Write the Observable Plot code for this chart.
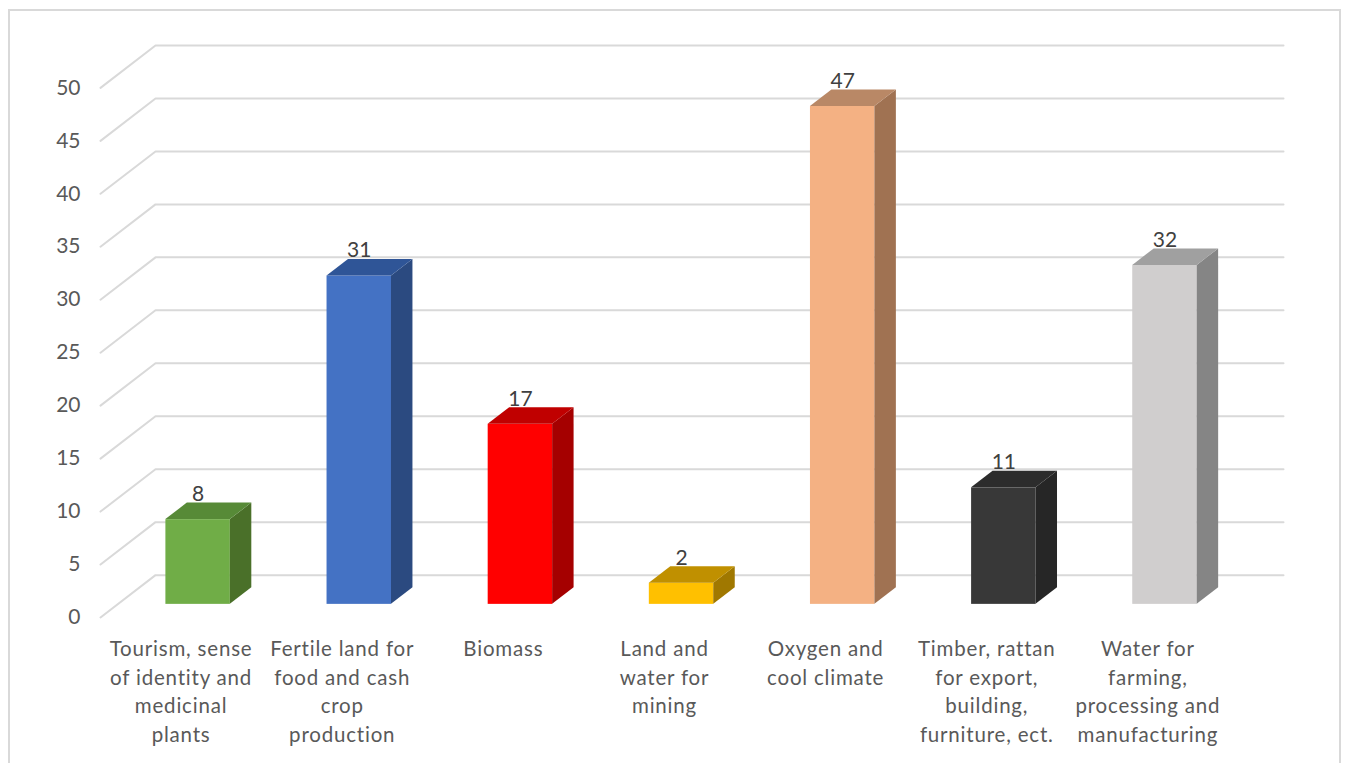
<!DOCTYPE html>
<html>
<head>
<meta charset="utf-8">
<script src="https://cdn.jsdelivr.net/npm/d3@7"></script>
<script src="https://cdn.jsdelivr.net/npm/@observablehq/plot@0.6"></script>
<style>
  html, body { margin: 0; padding: 0; background: #fff; }
  #wrap { position: relative; width: 1347px; height: 763px; overflow: hidden; }
  #border { position: absolute; left: 8px; top: 9px; width: 1333px; height: 770px; border: 2px solid #d9d9d9; box-sizing: border-box; }
  #chart { position: absolute; left: 0; top: 0; }
</style>
</head>
<body>
<div id="wrap"><div id="border"></div><div id="chart"></div></div>
<script>
// ---- data ----
const categories = [
  "Tourism, sense\nof identity and\nmedicinal\nplants",
  "Fertile land for\nfood and cash\ncrop\nproduction",
  "Biomass",
  "Land and\nwater for\nmining",
  "Oxygen and\ncool climate",
  "Timber, rattan\nfor export,\nbuilding,\nfurniture, ect.",
  "Water for\nfarming,\nprocessing and\nmanufacturing"
];
const values = [8, 31, 17, 2, 47, 11, 32];
const frontColors = ["#70ad47", "#4472c4", "#ff0000", "#ffc000", "#f4b183", "#383838", "#d0cece"];
const topColors   = ["#578a37", "#2f5597", "#c00000", "#c09000", "#b98866", "#2c2c2c", "#a0a0a0"];
const sideColors  = ["#4a7029", "#2b4a80", "#a50000", "#a07800", "#a07252", "#262626", "#858585"];
const yTicks = [0, 5, 10, 15, 20, 25, 30, 35, 40, 45, 50];

// ---- 3D geometry (oblique projection, in data units) ----
const DX = 0.3414;   // depth offset along x (category units)
const DY = 4.0;      // depth offset along y (value units)
const D0 = 0.31, D1 = 0.70;  // bar depth range (fraction of full depth)
const BW = 0.4;      // bar width (category units)
const N = categories.length;

const bars = categories.map((c, i) => ({i, c, v: values[i], front: frontColors[i], top: topColors[i], side: sideColors[i]}));

const gridPts = yTicks.flatMap(t => [
  {t, x: 0, y: t},
  {t, x: DX, y: t + DY},
  {t, x: N + DX, y: t + DY}
]);

const sidePts = bars.flatMap(b => [
  {i: b.i, x: b.i + 0.5 + BW / 2 + D0 * DX, y1: D0 * DY, y2: b.v + D0 * DY, fill: b.side},
  {i: b.i, x: b.i + 0.5 + BW / 2 + D1 * DX, y1: D1 * DY, y2: b.v + D1 * DY, fill: b.side}
]);
const topPts = bars.flatMap(b => [
  {i: b.i, y: b.v + D0 * DY, x1: b.i + 0.5 - BW / 2 + D0 * DX, x2: b.i + 0.5 + BW / 2 + D0 * DX, fill: b.top},
  {i: b.i, y: b.v + D1 * DY, x1: b.i + 0.5 - BW / 2 + D1 * DX, x2: b.i + 0.5 + BW / 2 + D1 * DX, fill: b.top}
]);

const FONT = "Lato, 'Open Sans', sans-serif";

const chart = Plot.plot({
  width: 1347,
  height: 763,
  marginLeft: 100,
  marginRight: 64,
  marginTop: 45,
  marginBottom: 146,
  style: {fontFamily: FONT, background: "transparent"},
  x: {domain: [0, N + DX], axis: null},
  y: {domain: [0, 50 + DY], axis: null},
  marks: [
    Plot.line(gridPts, {x: "x", y: "y", z: "t", stroke: "#d9d9d9", strokeWidth: 2, curve: "linear"}),
    Plot.axisY({ticks: yTicks, tickSize: 0, tickPadding: 20, fontSize: 21, color: "#595959", tickFormat: d => String(d)}),
    Plot.rect(bars, {
      x1: d => d.i + 0.5 - BW / 2 + D0 * DX,
      x2: d => d.i + 0.5 + BW / 2 + D0 * DX,
      y1: D0 * DY,
      y2: d => d.v + D0 * DY,
      fill: "front"
    }),
    Plot.areaY(sidePts, {x: "x", y1: "y1", y2: "y2", z: "i", fill: "fill", curve: "linear"}),
    Plot.areaX(topPts, {y: "y", x1: "x1", x2: "x2", z: "i", fill: "fill", curve: "linear"}),
    Plot.text(bars, {
      x: d => d.i + 0.5 + D0 * DX,
      y: d => d.v + D1 * DY,
      text: d => String(d.v),
      dy: -2,
      lineAnchor: "bottom",
      fontSize: 21,
      fill: "#404040",
      ariaDescription: "value-labels"
    }),
    Plot.text(bars, {
      x: d => d.i + 0.5,
      y: 0,
      text: "c",
      dy: 18,
      lineAnchor: "top",
      lineHeight: 1.4,
      fontSize: 20.5,
      fill: "#595959",
      ariaDescription: "category-labels"
    })
  ]
});
chart.querySelectorAll('g[aria-description="category-labels"]').forEach(g => g.setAttribute("letter-spacing", "0.8"));
document.getElementById("chart").appendChild(chart);
</script>
</body>
</html>
